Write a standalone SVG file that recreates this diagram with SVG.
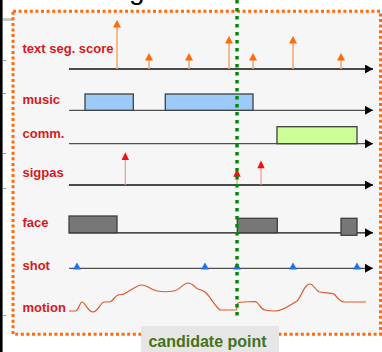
<svg xmlns="http://www.w3.org/2000/svg" width="382" height="352" viewBox="0 0 382 352">
  <style>
    .lbl { font-family: "Liberation Sans", Arial, sans-serif; font-weight: bold; font-size: 13px; fill: #d81820; }
    .axis { fill: none; stroke: #111; stroke-width: 1.3; }
    .axis-g { fill: none; stroke: #505050; stroke-width: 1.3; }
    .stem-o { stroke: #f5a46e; stroke-width: 1.5; }
    .head-o { fill: #ff6a0a; }
    .stem-r { stroke: #f09a9a; stroke-width: 1.2; }
    .head-r { fill: #ff0a0a; }
    .music { fill: #9ccbfa; stroke: #404040; stroke-width: 1.3; }
    .comm { fill: #ccff99; stroke: #404040; stroke-width: 1.3; }
    .face { fill: #777; stroke: #404040; stroke-width: 1.3; }
    .shot { fill: #1a73f0; }
    .tick { stroke: #999; stroke-width: 1; }
  </style>
  <defs>
    <marker id="arr" markerUnits="userSpaceOnUse" markerWidth="10" markerHeight="10" refX="8" refY="4.5" orient="auto">
      <path d="M0,0 L8,4.5 L0,9 Z" fill="#000"/>
    </marker>
  </defs>

  <!-- page edge and title descender -->
  <rect x="0" y="0" width="2.6" height="352" fill="#000"/>
  <rect x="3" y="18" width="10" height="3" fill="#c8c8c8"/>
  <g>
    <line class="tick" x1="3" y1="60.5" x2="6" y2="60.5"/>
    <line class="tick" x1="3" y1="93.5" x2="6" y2="93.5"/>
    <line class="tick" x1="3" y1="153.5" x2="6" y2="153.5"/>
    <line class="tick" x1="3" y1="188.5" x2="6" y2="188.5"/>
    <line class="tick" x1="3" y1="315.5" x2="6" y2="315.5"/>
  </g>
  <text x="129" y="-1" font-family="Liberation Sans, Arial, sans-serif" font-size="28" fill="#000">g</text>

  <!-- panel frame -->
  <rect x="13" y="11.3" width="367.5" height="323" fill="#f6f6f6" stroke="#ff6a0a" stroke-width="3" stroke-dasharray="3 2.6"/>

  <!-- text segmentation score -->
  <g id="row-text-seg">
    <text class="lbl" x="22.5" y="53">text seg. score</text>
    <line class="axis" x1="69" y1="69" x2="373" y2="69" marker-end="url(#arr)"/>
    <g>
      <line class="stem-o" x1="117" y1="26" x2="117" y2="69"/>
      <path class="head-o" d="M117,20 L121,27.5 L113,27.5 Z"/>
      <line class="stem-o" x1="149" y1="59" x2="149" y2="69"/>
      <path class="head-o" d="M149,53 L153,60.5 L145,60.5 Z"/>
      <line class="stem-o" x1="189" y1="59" x2="189" y2="69"/>
      <path class="head-o" d="M189,53 L193,60.5 L185,60.5 Z"/>
      <line class="stem-o" x1="229" y1="42" x2="229" y2="69"/>
      <path class="head-o" d="M229,36 L233,43.5 L225,43.5 Z"/>
      <line class="stem-o" x1="253" y1="59" x2="253" y2="69"/>
      <path class="head-o" d="M253,53 L257,60.5 L249,60.5 Z"/>
      <line class="stem-o" x1="293" y1="42" x2="293" y2="69"/>
      <path class="head-o" d="M293,36 L297,43.5 L289,43.5 Z"/>
      <line class="stem-o" x1="341" y1="59" x2="341" y2="69"/>
      <path class="head-o" d="M341,53 L345,60.5 L337,60.5 Z"/>
    </g>
  </g>

  <!-- music -->
  <g id="row-music">
    <text class="lbl" x="22.5" y="104">music</text>
    <line class="axis-g" x1="69" y1="110.3" x2="373" y2="110.3" marker-end="url(#arr)"/>
    <rect class="music" x="85" y="94" width="48.3" height="16.3"/>
    <rect class="music" x="165.3" y="94" width="87.7" height="16.3"/>
  </g>

  <!-- commercial -->
  <g id="row-comm">
    <text class="lbl" x="22.5" y="137.5">comm.</text>
    <line class="axis-g" x1="69" y1="143.7" x2="373" y2="143.7" marker-end="url(#arr)"/>
    <rect class="comm" x="277" y="126.7" width="80" height="17"/>
  </g>

  <!-- sigpas -->
  <g id="row-sigpas">
    <text class="lbl" x="22.5" y="177">sigpas</text>
    <line class="axis" x1="69" y1="185" x2="373" y2="185" marker-end="url(#arr)"/>
    <line class="stem-r" x1="125.3" y1="159" x2="125.3" y2="185"/>
    <path class="head-r" d="M125.3,152.3 L129,160 L121.6,160 Z"/>
    <line class="stem-r" x1="237" y1="176" x2="237" y2="185"/>
    <path class="head-r" d="M237,169 L240.7,176.7 L233.3,176.7 Z"/>
    <line class="stem-r" x1="261" y1="167" x2="261" y2="185"/>
    <path class="head-r" d="M261,160.5 L264.7,168.2 L257.3,168.2 Z"/>
  </g>

  <!-- face -->
  <g id="row-face">
    <text class="lbl" x="22.5" y="227">face</text>
    <line class="axis" x1="69" y1="232.8" x2="373" y2="232.8" marker-end="url(#arr)"/>
    <rect class="face" x="69" y="216" width="48" height="16.8"/>
    <rect class="face" x="237.3" y="218.3" width="40" height="14.5"/>
    <rect class="face" x="341" y="218.3" width="16" height="17"/>
  </g>

  <!-- shot -->
  <g id="row-shot">
    <text class="lbl" x="22.5" y="270">shot</text>
    <line class="axis-g" x1="69" y1="268.3" x2="373" y2="268.3" marker-end="url(#arr)"/>
    <path class="shot" d="M77,262.5 L81,269.5 L73,269.5 Z"/>
    <path class="shot" d="M205,262.5 L209,269.5 L201,269.5 Z"/>
    <path class="shot" d="M237,262.5 L241,269.5 L233,269.5 Z"/>
    <path class="shot" d="M293,262.5 L297,269.5 L289,269.5 Z"/>
    <path class="shot" d="M357,262.5 L361,269.5 L353,269.5 Z"/>
  </g>

  <!-- motion -->
  <g id="row-motion">
    <text class="lbl" x="22.5" y="311.5">motion</text>
    <path fill="none" stroke="#e0562a" stroke-width="1.2" d="M69,311 L76,311 C79,309 80,302 82,302 C85,302 88,312 93,312 C98,312 100,303 104,302 L110,302 C113,301 115,296 118,295 C121,294 122,295 124,294 C130,291 137,285 142,285 C147,285 151,290 157,291 C162,292 168,292 174,291 C180,290 183,283 188,283 C193,283 195,288 198,289 C202,290 202,290 205,292 C210,296 214,305 220,310 L235,310 C237,310 237,309 237,306 C237,302 240,302 243,302 L255,301.5 C259,302 260,309 265,310 C269,311 272,311 275,311 C283,311 290,305 297,301 C302,296 304,284 310,284 C314,284 316,292 320,292 C326,293 330,293 334,294 C338,298 340,302 344,302 L366,302"/>
  </g>

  <!-- candidate point marker -->
  <g id="candidate">
    <line x1="237" y1="0" x2="237" y2="320" stroke="#008a00" stroke-width="3.4" stroke-dasharray="3.6 4.4"/>
    <rect x="141" y="326" width="138" height="26" fill="#e6e6e6"/>
    <text x="207.5" y="346.7" text-anchor="middle" font-family="Liberation Sans, Arial, sans-serif" font-weight="bold" font-size="16" fill="#45721a">candidate point</text>
  </g>
</svg>
